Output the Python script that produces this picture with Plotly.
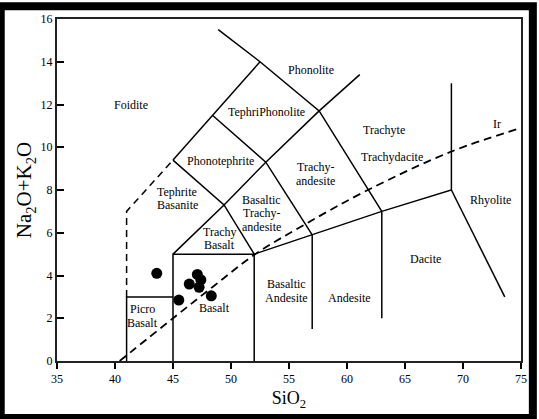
import plotly.graph_objects as go

# ---- data ----
# TAS field boundaries (SiO2, Na2O+K2O), solid polylines
solid_lines = [
    [(41, 0), (41, 3), (45, 3)],
    [(45, 0), (45, 5), (52, 5), (52, 0)],
    [(52, 5), (57, 5.9), (63, 7), (69, 8), (69, 13)],
    [(57, 5.9), (57, 1.5)],
    [(63, 7), (63, 2)],
    [(69, 8), (73.6, 3.0)],
    [(45, 5), (49.4, 7.3), (53, 9.3), (57.6, 11.7), (61.1, 13.4)],
    [(45, 9.4), (49.4, 7.3), (52, 5)],
    [(45, 9.4), (48.4, 11.5), (52.5, 14)],
    [(48.4, 11.5), (53, 9.3), (57, 5.9)],
    [(48.9, 15.5), (52.5, 14), (57.6, 11.7), (63, 7)],
]
dashed_boundary_x = [41, 41, 45]
dashed_boundary_y = [3, 7, 9.4]

# Irvine & Baragar alkaline/subalkaline divide
ir_x = [40.4, 45, 48.5, 52.1, 56.4, 61.8, 69, 75]
ir_y = [0, 2.0, 3.5, 5.0, 6.4, 8.0, 9.8, 10.9]

# samples
sio2 = [43.6, 47.1, 47.4, 46.4, 47.25, 48.3, 45.5]
alk = [4.1, 4.05, 3.8, 3.6, 3.45, 3.05, 2.85]

# field labels, one entry per text line
field_names = ["Foidite", "Phonolite", "TephriPhonolite", "Trachyte", "Trachydacite",
               "Trachy-", "andesite", "Phonotephrite", "Tephrite", "Basanite",
               "Trachy", "Basalt", "Basaltic", "Trachy-", "andesite",
               "Basaltic", "Andesite", "Andesite", "Dacite", "Rhyolite", "Ir",
               "Picro", "Basalt", "Basalt"]
field_x = [41.4, 56.9, 53.1, 63.2, 63.9,
           57.3, 57.3, 49.1, 45.35, 45.35,
           49.05, 49.05, 52.65, 52.65, 52.65,
           54.76, 54.76, 60.2, 66.8, 72.4, 72.9,
           42.36, 42.36, 48.6]
field_y = [12.0, 13.6, 11.66, 10.82, 9.55,
           9.06, 8.40, 9.37, 7.91, 7.28,
           6.05, 5.41, 7.51, 6.94, 6.29,
           3.59, 2.94, 2.94, 4.77, 7.53, 11.08,
           2.45, 1.79, 2.5]

x_ticks = [35, 40, 45, 50, 55, 60, 65, 70, 75]
y_ticks = [0, 2, 4, 6, 8, 10, 12, 14, 16]

FONT = "Liberation Serif"

fig = go.Figure()
for seg in solid_lines:
    fig.add_trace(go.Scatter(x=[p[0] for p in seg], y=[p[1] for p in seg], mode="lines",
                             line=dict(color="black", width=1.5), hoverinfo="skip"))
fig.add_trace(go.Scatter(x=dashed_boundary_x, y=dashed_boundary_y, mode="lines",
                         line=dict(color="black", width=1.5, dash="7px,5px")))
fig.add_trace(go.Scatter(x=ir_x, y=ir_y, mode="lines", line_shape="spline",
                         line=dict(color="black", width=1.8, dash="8px,5px")))
fig.add_trace(go.Scatter(x=sio2, y=alk, mode="markers",
                         marker=dict(color="black", size=11, symbol="circle")))

for name, x, y in zip(field_names, field_x, field_y):
    fig.add_annotation(x=x, y=y, text=name, showarrow=False,
                       font=dict(family=FONT, size=12, color="black"))

# black frame round the whole picture (paper coords relative to plot area)
L, R, T, B = 57, 12, 13, 58
W, H = 539, 419
pw, ph = W - L - R, H - T - B
fig.add_shape(type="rect", xref="paper", yref="paper",
              x0=-L / pw, x1=(W - L) / pw, y0=-B / ph, y1=(H - B) / ph,
              line=dict(color="black", width=8), layer="above")

fig.update_layout(
    width=W, height=H, showlegend=False,
    margin=dict(l=L, r=R, t=T, b=B),
    paper_bgcolor="white", plot_bgcolor="white",
    font=dict(family=FONT, color="black", size=12),
)
fig.update_xaxes(range=[35, 75], tickvals=x_ticks, ticks="outside", ticklen=6,
                 tickwidth=1.5, tickcolor="black", showline=True, linecolor="#222",
                 linewidth=2, mirror=True, showgrid=False, zeroline=False,
                 tickfont=dict(family=FONT, size=12),
                 title=dict(text="SiO<sub>2</sub>", font=dict(family=FONT, size=18),
                            standoff=6))
fig.update_yaxes(range=[0, 16], tickvals=y_ticks, ticks="inside", ticklen=7,
                 tickwidth=1.5, tickcolor="black", showline=True, linecolor="#222",
                 linewidth=2, mirror=True, showgrid=False, zeroline=False,
                 tickfont=dict(family=FONT, size=12),
                 title=dict(text="Na<sub>2</sub>O+K<sub>2</sub>O",
                            font=dict(family=FONT, size=21), standoff=3))

fig.write_html("out.html", config={"displayModeBar": False},
               post_script="document.body.style.margin='0px';"
                           "document.body.style.overflow='hidden';")
